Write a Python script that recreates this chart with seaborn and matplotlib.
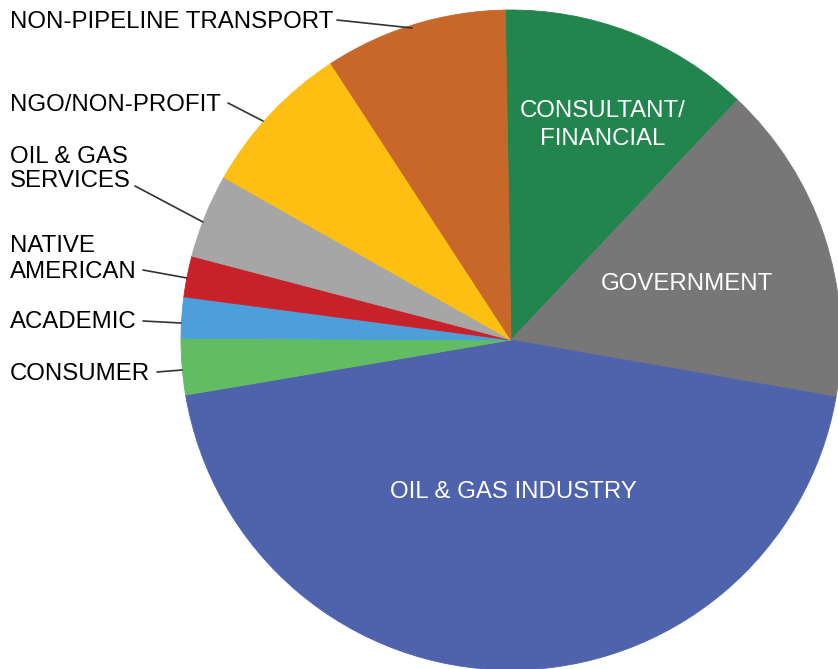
import matplotlib
matplotlib.use("Agg")
import matplotlib.pyplot as plt
import seaborn as sns

sns.set_theme(style="white")
plt.rcParams['font.family'] = ['Liberation Sans', 'DejaVu Sans']

categories = ["CONSULTANT/\nFINANCIAL", "GOVERNMENT", "OIL & GAS INDUSTRY", "CONSUMER",
              "ACADEMIC", "NATIVE\nAMERICAN", "OIL & GAS\nSERVICES", "NGO/NON-PROFIT",
              "NON-PIPELINE TRANSPORT"]
values = [12.3, 15.7, 44.5, 2.75, 2.0, 2.0, 4.1, 7.6, 8.9]
colors = ["#23854E", "#777777", "#4F62AC", "#62BD62", "#4C9FD8", "#C9212A",
          "#A5A6A5", "#FCBF12", "#C8672A"]

W, H = 838, 669
fig = plt.figure(figsize=(W / 100, H / 100), dpi=100)
ax = fig.add_axes([0, 0, 1, 1])

cx, cy, r = 511, H - 340, 330
wedges, _ = ax.pie(values, colors=colors, startangle=91, counterclock=False,
                   center=(cx, cy), radius=r, frame=True,
                   wedgeprops=dict(linewidth=0.6))
for w, c in zip(wedges, colors):
    w.set_edgecolor(c)
ax.set_xlim(0, W)
ax.set_ylim(0, H)
ax.set_aspect('equal')
ax.axis('off')

fs = 17.3
# inside labels: centre x, baselines of each line
inside = {0: (603, [117, 145]), 1: (687, [290]), 2: (513, [498])}
for i, (x, bls) in inside.items():
    for line, b in zip(categories[i].split('\n'), bls):
        ax.text(x, H - b, line, color='white', fontsize=fs, ha='center', va='baseline')

# outside labels: (text x, baselines, line start, line end)
outside = {
    8: (10, [28], (337, 20), (412, 28)),
    7: (10, [111], (228, 103), (263, 121)),
    6: (10, [163, 187], (135, 186), (203, 222)),
    5: (10, [252, 278], (143, 270), (187, 278)),
    4: (10, [328], (143, 321), (181, 323)),
    3: (10, [380], (157, 372), (182, 370)),
}
for i, (tx, bls, p0, p1) in outside.items():
    for line, b in zip(categories[i].split('\n'), bls):
        ax.text(tx, H - b, line, color='black', fontsize=fs, ha='left', va='baseline')
    ax.plot([p0[0], p1[0]], [H - p0[1], H - p1[1]], color='#333333', lw=1.2)

fig.savefig("out.png", dpi=100)
